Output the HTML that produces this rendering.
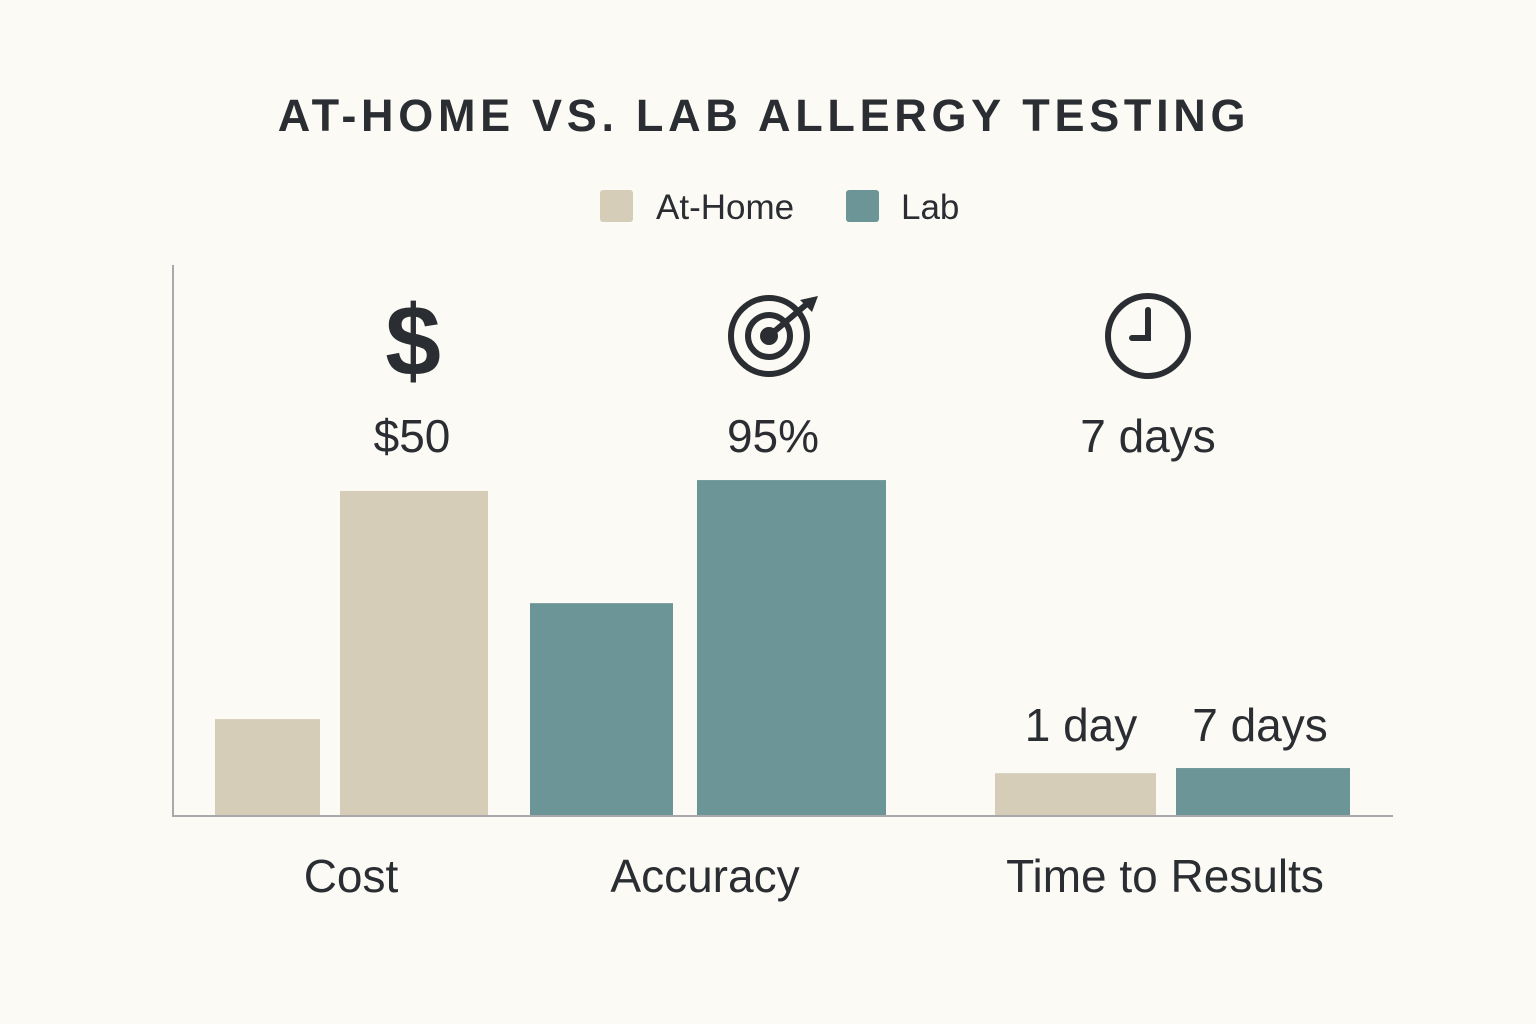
<!DOCTYPE html>
<html><head><meta charset="utf-8"><style>
html,body{margin:0;padding:0;background:#fcfaf5;}
svg{display:block;font-family:"Liberation Sans","DejaVu Sans",sans-serif;}
</style></head><body>
<svg id="chart" width="1536" height="1024" viewBox="0 0 1536 1024">
<rect width="1536" height="1024" fill="#fcfaf5"/>
<text x="764" y="131" text-anchor="middle" font-size="45" font-weight="bold" letter-spacing="4.7" fill="#2a2d31">AT-HOME VS. LAB ALLERGY TESTING</text>
<g>
<rect x="600" y="190" width="33" height="32" rx="3" fill="#d6cdb8"/>
<text x="656" y="219" font-size="35" fill="#2a2d31">At-Home</text>
<rect x="846" y="190" width="33" height="32" rx="3" fill="#6b9597"/>
<text x="901" y="219" font-size="35" fill="#2a2d31">Lab</text>
</g>
<line x1="173" y1="265" x2="173" y2="816" stroke="#a9a9ab" stroke-width="2"/>
<line x1="172" y1="816" x2="1393" y2="816" stroke="#a9a9ab" stroke-width="2"/>
<g id="bars"></g>
<g><text x="413" y="375" text-anchor="middle" font-size="100" font-weight="bold" fill="#2a2d31">$</text></g>
<g stroke="#2a2d31" fill="none" stroke-width="6">
<circle cx="769" cy="336" r="38"/><circle cx="769" cy="336" r="21"/><circle cx="769" cy="336" r="6" fill="#2a2d31"/>
<line x1="769" y1="336" x2="808" y2="303"/><polygon points="818,296 800,300 812,312" fill="#2a2d31" stroke="none"/>
</g>
<g stroke="#2a2d31" fill="none" stroke-width="6">
<circle cx="1148" cy="336" r="40"/><polyline points="1148,310 1148,338 1132,338" stroke-linecap="round"/>
</g>
<text x="412" y="452" text-anchor="middle" font-size="46" fill="#2a2d31">$50</text>
<text x="773" y="452" text-anchor="middle" font-size="46" fill="#2a2d31">95%</text>
<text x="1148" y="452" text-anchor="middle" font-size="46" fill="#2a2d31">7 days</text>
<text x="1081" y="741" text-anchor="middle" font-size="46" fill="#2a2d31">1 day</text>
<text x="1260" y="741" text-anchor="middle" font-size="46" fill="#2a2d31">7 days</text>
<g id="xlabels"></g>
</svg>
<script>
const categories = ["Cost","Accuracy","Time to Results"];
const barValues = [28.5, 95.6, 62.6, 98.8, 12.6, 14.1];
const barSeries = ["At-Home","At-Home","Lab","Lab","At-Home","Lab"];
const barCategory = [0,0,1,1,2,2];
const colors = {"At-Home":"#d6cdb8","Lab":"#6b9597"};
// layout
const baseY = 816, pxPerUnit = 3.4;
const barX = [215,340,530,697,995,1176];
const barW = [105,148,143,189,161,174];
const labelX = [351,705,1165];
function yScale(v){ return baseY - v*pxPerUnit; }
const NS = "http://www.w3.org/2000/svg";
const g = document.getElementById("bars");
barValues.forEach((v,i)=>{
  const r = document.createElementNS(NS,"rect");
  r.setAttribute("x", barX[i]);
  r.setAttribute("y", yScale(v));
  r.setAttribute("width", barW[i]);
  r.setAttribute("height", baseY - yScale(v) - 1);
  r.setAttribute("fill", colors[barSeries[i]]);
  
  
  g.appendChild(r);
});
const xl = document.getElementById("xlabels");
categories.forEach((c,i)=>{
  const t = document.createElementNS(NS,"text");
  t.setAttribute("x", labelX[i]);
  t.setAttribute("y", 892);
  t.setAttribute("text-anchor","middle");
  t.setAttribute("font-size","46");
  t.setAttribute("fill","#2a2d31");
  t.textContent = c;
  
  
  xl.appendChild(t);
});
</script>
</body></html>
